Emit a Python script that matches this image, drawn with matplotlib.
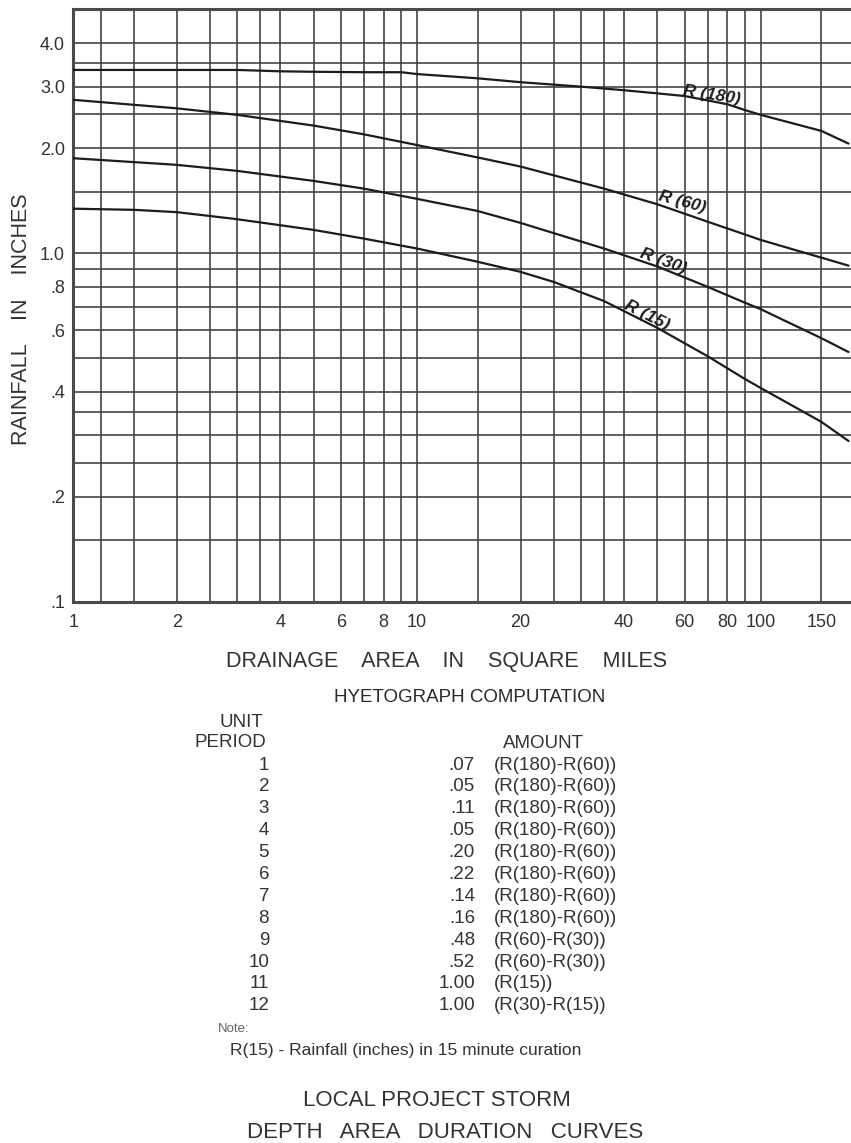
import matplotlib
matplotlib.use("Agg")
import matplotlib.pyplot as plt

plt.rcParams['font.family'] = ['Liberation Sans', 'DejaVu Sans']

# ---- depth-area-duration curves (drainage area in sq. miles -> rainfall in inches)
r180_area = [1, 2, 3, 4, 5, 7, 9, 10, 15, 20, 25, 30, 40, 50, 60, 70, 80, 90, 100, 150, 180]
r180_rain = [3.35, 3.35, 3.35, 3.32, 3.31, 3.30, 3.30, 3.26, 3.17, 3.09, 3.04, 3.00, 2.93,
             2.87, 2.82, 2.74, 2.67, 2.57, 2.49, 2.24, 2.06]

r60_area = [1, 2, 3, 5, 7, 10, 15, 20, 25, 35, 50, 70, 90, 100, 150, 180]
r60_rain = [2.75, 2.60, 2.49, 2.32, 2.19, 2.04, 1.88, 1.77, 1.67, 1.53, 1.38, 1.23, 1.13,
            1.09, 0.97, 0.92]

r30_area = [1, 2, 3, 5, 7, 10, 15, 20, 25, 35, 50, 70, 90, 100, 150, 180]
r30_rain = [1.87, 1.79, 1.72, 1.61, 1.53, 1.43, 1.32, 1.22, 1.14, 1.03, 0.915, 0.80, 0.72,
            0.69, 0.57, 0.52]

r15_area = [1, 1.5, 2, 3, 5, 7, 10, 15, 20, 25, 35, 50, 70, 90, 100, 150, 180]
r15_rain = [1.34, 1.33, 1.31, 1.25, 1.165, 1.10, 1.03, 0.944, 0.883, 0.826, 0.728, 0.61,
            0.506, 0.435, 0.41, 0.328, 0.289]

curve_names = ["R (180)", "R (60)", "R (30)", "R (15)"]
# label anchor (area, rainfall) and text angle for each curve name
label_area = [72, 59, 52, 46.5]
label_rain = [2.84, 1.40, 0.945, 0.665]
label_angle = [-9, -15, -20, -27]

# ---- axis ticks and grid
x_tick_vals = [1, 2, 4, 6, 8, 10, 20, 40, 60, 80, 100, 150]
x_tick_text = ["1", "2", "4", "6", "8", "10", "20", "40", "60", "80", "100", "150"]
x_grid_extra = [1.2, 1.5, 2.5, 3, 3.5, 5, 7, 9, 15, 25, 30, 35, 50, 70, 90]

y_tick_vals = [0.1, 0.2, 0.4, 0.6, 0.8, 1.0, 2.0, 3.0, 4.0]
y_tick_text = [".1", ".2", ".4", ".6", ".8", "1.0", "2.0", "3.0", "4.0"]
y_grid_extra = [0.15, 0.25, 0.3, 0.35, 0.5, 0.7, 0.9, 1.5, 2.5, 3.5]

# ---- hyetograph computation table
unit_period = list(range(1, 13))
amount = [0.07, 0.05, 0.11, 0.05, 0.20, 0.22, 0.14, 0.16, 0.48, 0.52, 1.00, 1.00]
amount_basis = ["(R(180)-R(60))"] * 8 + ["(R(60)-R(30))"] * 2 + ["(R(15))", "(R(30)-R(15))"]

W, H = 851, 1143
fig = plt.figure(figsize=(W / 100, H / 100), dpi=100)
fig.patch.set_facecolor("white")

def fx(px):
    return px / W

def fy(py):
    return 1 - py / H

ax = fig.add_axes([fx(73.3), fy(601.7), 1 - fx(73.3), (601.7 - 9.3) / H])
ax.set_xscale("log")
ax.set_yscale("log")
ax.set_xlim(1, 183)
ax.set_ylim(0.1, 5.0)

grid_kw = dict(color="#3c3c3c", linewidth=1.15)
ax.set_xticks(x_tick_vals)
ax.set_xticklabels(x_tick_text)
ax.set_xticks(x_grid_extra, minor=True)
ax.set_xticklabels([], minor=True)
ax.set_yticks(y_tick_vals)
ax.set_yticklabels(y_tick_text)
ax.set_yticks(y_grid_extra, minor=True)
ax.set_yticklabels([], minor=True)
ax.grid(True, which="both", **grid_kw)
ax.set_axisbelow(True)
ax.tick_params(which="both", length=0)
ax.tick_params(axis="x", pad=9, labelsize=13, labelcolor="#333333")
ax.tick_params(axis="y", pad=6, labelsize=13, labelcolor="#333333")

for side in ("top", "left", "bottom"):
    ax.spines[side].set_color("#4a4a4a")
    ax.spines[side].set_linewidth(2.2)
ax.spines["right"].set_visible(False)

series = [(r180_area, r180_rain), (r60_area, r60_rain), (r30_area, r30_rain), (r15_area, r15_rain)]
for (xs, ys) in series:
    ax.plot(xs, ys, color="#1c1c1c", linewidth=1.6, solid_joinstyle="round",
            solid_capstyle="round", zorder=3)

for name, xa, ya, ang in zip(curve_names, label_area, label_rain, label_angle):
    ax.text(xa, ya, name, rotation=ang, ha="center", va="center", fontsize=12.5,
            fontweight="bold", fontstyle="italic", color="#1c1c1c", zorder=4,
            rotation_mode="anchor")

txt = "#333333"
fig.text(fx(22), fy(319), "RAINFALL    IN    INCHES", rotation=90, ha="center", va="center",
         fontsize=15.5, color=txt)
fig.text(fx(447), fy(661.5), "DRAINAGE    AREA    IN    SQUARE    MILES", ha="center",
         va="center", fontsize=15.5, color=txt)
fig.text(fx(470), fy(697.5), "HYETOGRAPH COMPUTATION", ha="center", va="center",
         fontsize=13.5, color="#2a2a2a")

fig.text(fx(263), fy(722.5), "UNIT", ha="right", va="center", fontsize=13.5, color=txt)
fig.text(fx(266), fy(742.5), "PERIOD", ha="right", va="center", fontsize=13.5, color=txt)
fig.text(fx(543), fy(743), "AMOUNT", ha="center", va="center", fontsize=13.5, color=txt)

row0, row_step = 765.0, 21.9
for i, (p, a, b) in enumerate(zip(unit_period, amount, amount_basis)):
    yy = fy(row0 + i * row_step)
    fig.text(fx(269), yy, str(p), ha="right", va="center", fontsize=13.5, color=txt)
    fig.text(fx(475), yy, f"{a:.2f}".lstrip("0"), ha="right", va="center", fontsize=13.5,
             color=txt)
    fig.text(fx(494), yy, b, ha="left", va="center", fontsize=13.5, color=txt)

fig.text(fx(218), fy(1029), "Note:", ha="left", va="center", fontsize=9.5, color="#666666")
fig.text(fx(230), fy(1050), "R(15) - Rainfall (inches) in 15 minute curation", ha="left",
         va="center", fontsize=12.5, color=txt)

fig.text(fx(437), fy(1101), "LOCAL PROJECT STORM", ha="center", va="center", fontsize=16,
         color=txt)
fig.text(fx(445), fy(1133), "DEPTH   AREA   DURATION   CURVES", ha="center", va="center",
         fontsize=16, color=txt)

fig.savefig("out.png", dpi=100, facecolor="white")
